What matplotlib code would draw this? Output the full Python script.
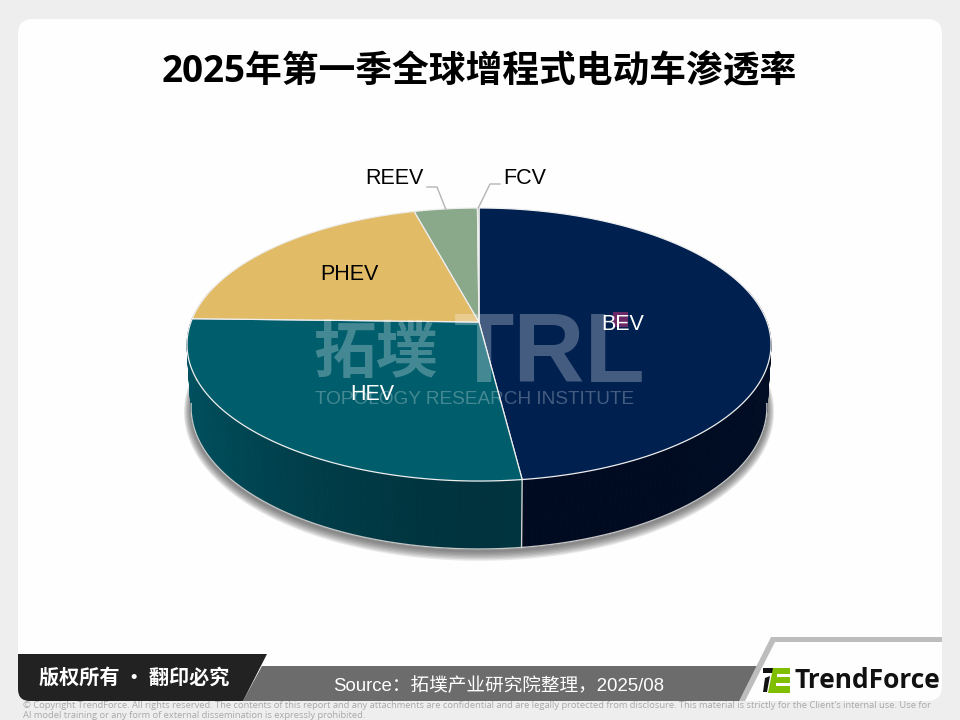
import numpy as np
import matplotlib
matplotlib.use("Agg")
import matplotlib.pyplot as plt
from matplotlib.patches import FancyBboxPatch, Polygon, Rectangle

categories = ["BEV", "HEV", "PHEV", "REEV", "FCV"]
shares = [48.0, 27.4, 20.4, 4.1, 0.1]
top_colors = ["#002050", "#005d6b", "#e2bb67", "#8aa88a", "#8aa88a"]
side_dark = ["#000a20", "#00333d", "#9c8040", "#5f755f", "#5f755f"]
side_light = ["#000d24", "#005160", "#b09048", "#6f856f", "#6f856f"]

title = "2025年第一季全球增程式电动车渗透率"
source = "Source：拓墣产业研究院整理，2025/08"
notice = "版权所有 · 翻印必究"
copyright_1 = ("© Copyright TrendForce. All rights reserved. The contents of this report and any attachments "
               "are confidential and are legally protected from disclosure. This material is strictly for the "
               "Client's internal use. Use for")
copyright_2 = "AI model training or any form of external dissemination is expressly prohibited."

# perspective of the tilted pie, in pixels
CX, CY = 479, 322
K = 0.165
Q, P = 288, 132.8
Q_LOW, P_LOW, DROP = 284, 137.8, 62


def project(theta, q=Q, p=P, drop=0):
    # theta in degrees, clockwise from 12 o'clock
    t = np.radians(theta)
    x, y = np.sin(t), np.cos(t)
    w = 1 + K * y
    return CX + q * x / w, CY + drop - p * y / w


def top_edge(theta):
    return np.column_stack(project(theta))


def low_edge(theta, grow=0):
    return np.column_stack(project(theta, Q_LOW + grow, P_LOW + grow, DROP))


fig = plt.figure(figsize=(9.6, 7.2), dpi=100, facecolor="#eeeeee")
ax = fig.add_axes([0, 0, 1, 1])
ax.set_xlim(0, 960)
ax.set_ylim(720, 0)
ax.axis("off")

# card
ax.add_patch(FancyBboxPatch((18, 19), 924, 682, boxstyle="round,pad=0,rounding_size=15", linewidth=0,
                            facecolor="#fefefe", zorder=0))

ax.text(479, 71, title, ha="center", va="center", fontsize=26.5, fontweight="bold", color="black",
        family=["Open Sans", "Noto Sans CJK SC"], zorder=10)

angles = np.cumsum([0] + shares) / sum(shares) * 360
whole = np.linspace(0, 360, 361)

# soft shadow
for grow in range(7, 0, -1):
    edge = low_edge(whole, grow) + [0, grow * 0.2 + 2]
    ax.add_patch(Polygon(edge, closed=True, facecolor="#404040", alpha=0.12, linewidth=0, zorder=1))

# side wall
for i in range(len(categories)):
    steps = np.arange(angles[i], angles[i + 1] + 1, 1.0)
    steps[-1] = angles[i + 1]
    dark = np.array(matplotlib.colors.to_rgb(side_dark[i]))
    light = np.array(matplotlib.colors.to_rgb(side_light[i]))
    for a, b in zip(steps[:-1], steps[1:]):
        if np.cos(np.radians(a)) > 0.25:
            continue
        shade = abs(np.sin(np.radians((a + b) / 2))) ** 1.5
        col = dark + (light - dark) * shade
        quad = np.vstack([top_edge(np.array([a, b])), low_edge(np.array([b, a]))])
        ax.add_patch(Polygon(quad, closed=True, facecolor=col, edgecolor=col, linewidth=0.6, zorder=2))

front = whole[(whole > 97) & (whole < 263)]
ax.plot(*low_edge(front).T, color="#c4c4c4", linewidth=1, zorder=3)
seam = angles[1]
ax.plot([project(seam)[0], project(seam, Q_LOW, P_LOW, DROP)[0]],
        [project(seam)[1], project(seam, Q_LOW, P_LOW, DROP)[1]], color="#d0d0d0", linewidth=1, zorder=3)

# top face
for i in range(len(categories)):
    arc = np.linspace(angles[i], angles[i + 1], 200)
    wedge = np.vstack([[CX, CY], top_edge(arc)])
    ax.add_patch(Polygon(wedge, closed=True, facecolor=top_colors[i], edgecolor="#eeeeee", linewidth=0.9,
                         joinstyle="round", zorder=4))

# watermark
ax.text(376, 353, "拓墣", ha="center", va="center", fontsize=45, fontweight="bold", color="white", alpha=0.27,
        family=["Noto Sans CJK SC"], zorder=5)
ax.text(550, 356, "TRL", ha="center", va="center", fontsize=71, fontweight="bold", color="white", alpha=0.27,
        family=["Liberation Sans"], zorder=5)
ax.text(475, 400, "TOPOLOGY RESEARCH INSTITUTE", ha="center", va="center", fontsize=13.7, color="white",
        alpha=0.27, family=["Liberation Sans"], zorder=5)
ax.add_patch(Rectangle((613, 312), 15, 15, facecolor="#6b2a66", linewidth=0, zorder=6))

# leaders and labels
lx, ly = project((angles[3] + angles[4]) / 2)
ax.plot([427, 437, lx], [187, 187, ly], color="#b4b4b4", linewidth=1, zorder=6)
lx, ly = project((angles[4] + angles[5]) / 2)
ax.plot([500, 490, lx], [184, 184, ly], color="#b4b4b4", linewidth=1, zorder=6)

label_x = [623, 372, 349, 394, 525]
label_y = [325, 395, 275, 179, 178]
label_colors = ["white", "white", "black", "black", "black"]
for name, x, y, c in zip(categories, label_x, label_y, label_colors):
    ax.text(x, y, name, ha="center", va="center", fontsize=15.5, color=c, family=["Liberation Sans"], zorder=7)

# footer
ax.add_patch(Polygon([(262, 666), (760, 666), (740, 701), (243, 701)], closed=True, facecolor="#6c6c6c",
                     linewidth=0, zorder=6))
ax.add_patch(FancyBboxPatch((18, 654), 60, 47, boxstyle="round,pad=0,rounding_size=12", facecolor="#222222",
                            linewidth=0, zorder=7))
ax.add_patch(Polygon([(18, 654), (267, 654), (243, 701), (40, 701), (18, 680)], closed=True, facecolor="#222222",
                     linewidth=0, zorder=7))
ax.add_patch(Polygon([(739, 701), (771, 637), (942, 637), (942, 642), (775, 642), (745, 701)], closed=True,
                     facecolor="#bdbdbd", linewidth=0, zorder=6))
ax.text(134, 677, notice, ha="center", va="center", fontsize=14.5, fontweight="bold", color="white",
        family=["Noto Sans CJK SC"], zorder=8)
ax.text(499, 686, source, ha="center", va="center", fontsize=13.4, color="white",
        family=["Liberation Sans", "Noto Sans CJK SC"], zorder=8)

# logo
ax.add_patch(Polygon([(763, 668), (777, 668), (775, 673), (763, 673)], closed=True, facecolor="#111111",
                     linewidth=0, zorder=8))
ax.add_patch(Polygon([(765, 678), (770, 676), (767, 692), (763, 692)], closed=True, facecolor="#111111",
                     linewidth=0, zorder=8))
ax.add_patch(Polygon([(773, 668), (790, 668), (790, 693), (768, 693)], closed=True, facecolor="#7fbe00",
                     linewidth=0, zorder=8))
ax.add_patch(Rectangle((777, 674), 13, 3, facecolor="white", linewidth=0, zorder=9))
ax.add_patch(Rectangle((776, 683), 14, 3, facecolor="white", linewidth=0, zorder=9))
ax.text(867, 681, "TrendForce", ha="center", va="center", fontsize=19, fontweight="bold", color="#111111",
        family=["Open Sans"], zorder=8)

# small print
ax.text(23, 706, copyright_1, ha="left", va="center", fontsize=6.77, color="#a8a8a8", family=["Open Sans"], zorder=8)
ax.text(23, 715, copyright_2, ha="left", va="center", fontsize=6.77, color="#a8a8a8", family=["Open Sans"], zorder=8)

fig.savefig("out.png", dpi=100, facecolor=fig.get_facecolor())
